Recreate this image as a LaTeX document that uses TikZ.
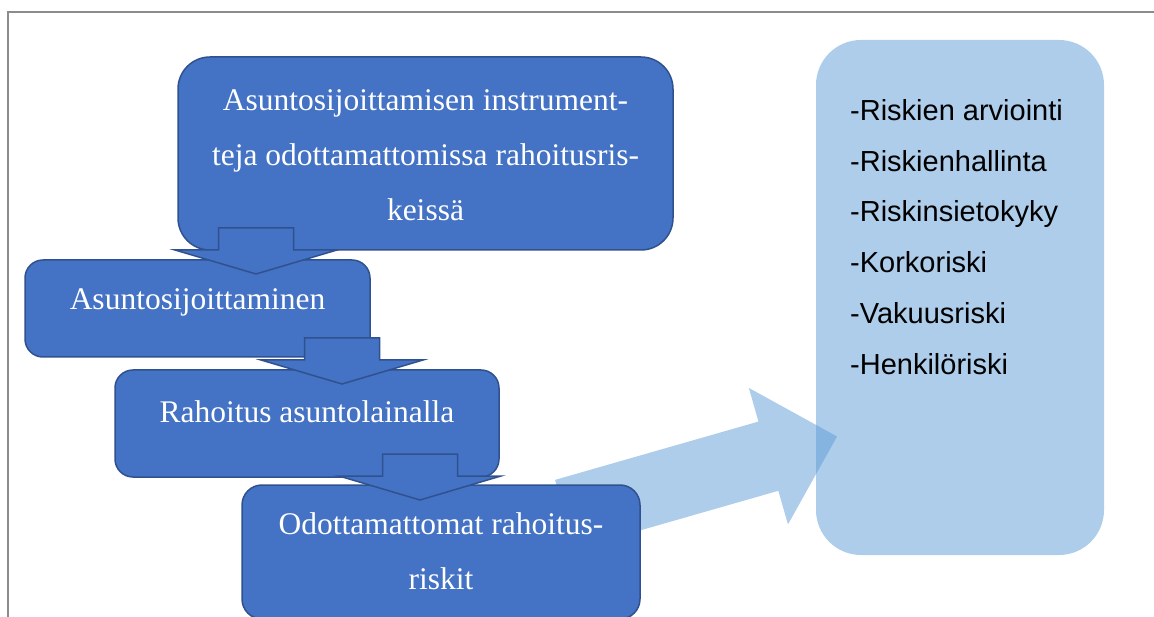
\documentclass[tikz,border=0pt]{standalone}
\usepackage{fontspec}
\setmainfont{Liberation Serif}
\newfontfamily\listfont{Liberation Sans}
\usetikzlibrary{positioning, calc}
\definecolor{boxblue}{HTML}{4472C4}
\definecolor{boxedge}{HTML}{2F528F}
\definecolor{paleblue}{HTML}{5B9BD5}
\definecolor{framegray}{HTML}{8C8C8C}
\tikzset{
	downarrow/.pic={
			\draw[line width=1.5pt, fill=boxblue, draw=boxedge, line join=miter]
			(-37.5,-46) --
			(37.5,-46)  --
			(37.5,-24) --
			(81,-24) --
			(0,0) --
			(-81,-24) --
			(-37.5,-24) --
			cycle;
		}
}
\tikzset{
	bigarrow/.pic={
			\fill[paleblue, fill opacity=0.5]
			(0,-36) --
			(211.6,-36) --
			(211.6,-71) --
			(283,0) --
			(211.6,71) --
			(211.6,36) --
			(0,36) --
			cycle;
		}
}
\tikzset{
	bluebox/.style={draw=boxedge, line width=1.5pt, fill=boxblue, inner sep=0pt}
}
\tikzset{
	boxtext/.style={text=white, align=center, inner sep=0pt, font=\fontsize{31.5}{55}\selectfont}
}
\tikzset{
	listtext/.style={text=black, align=left, inner sep=0pt, font=\listfont\fontsize{29}{50.8}\selectfont}
}

\begin{document}
\begin{tikzpicture}[x=1pt, y=-1pt]
\useasboundingbox (0,0) rectangle (1154,617);

% frame of the page
\draw[framegray, line width=1.5pt] (8,617) -- (8,12) -- (1154,12);

% risk list on the right
\node[fill=paleblue, fill opacity=0.5, rounded corners=45pt, minimum width=288pt, minimum height=515pt, inner sep=0pt] (riskbox) at (960,297.5) {};
\node[listtext, anchor=north west] (risks) at (850,99)
	{-Riskien arviointi\\-Riskienhallinta\\-Riskinsietokyky\\-Korkoriski\\-Vakuusriski\\-Henkilöriski};

\coordinate (bigtail) at (565,514.5);
\pic[rotate=16] at (bigtail) {bigarrow};

% the chain of boxes
\node[bluebox, rounded corners=32pt, minimum width=495pt, minimum height=193pt] (instr) at (425.5,153.5) {};
\node[bluebox, rounded corners=18pt, minimum width=345pt, minimum height=97pt] (invest) at (197.5,308.5) {};
\node[bluebox, rounded corners=18pt, minimum width=384pt, minimum height=107pt] (loan) at (307,423.5) {};
\node[bluebox, rounded corners=20pt, minimum width=398pt, minimum height=134pt] (risk) at (441,552) {};

\coordinate (tA) at (256,274);
\coordinate (tB) at (342,384);
\coordinate (tC) at (420,500);

\pic at (tA) {downarrow};
\pic at (tB) {downarrow};
\pic at (tC) {downarrow};

\node[boxtext] at ([yshift=-1.5pt]instr.center) {Asuntosijoittamisen instrument-\\teja odottamattomissa rahoitusris-\\keissä};
\node[boxtext] at ([yshift=6.5pt]invest.center) {Asuntosijoittaminen};
\node[boxtext] at ([yshift=12pt]loan.center) {Rahoitus asuntolainalla};
\node[boxtext] at ([yshift=0.5pt]risk.center) {Odottamattomat rahoitus-\\riskit};

\end{tikzpicture}
\end{document}
